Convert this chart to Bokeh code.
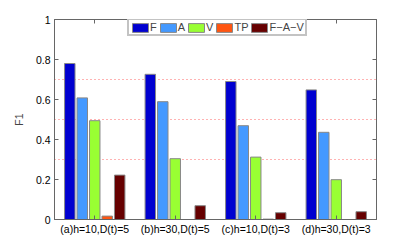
from bokeh.plotting import figure
from bokeh.models import FixedTicker, LinearAxis, Legend, LegendItem, Range1d
from bokeh.embed import file_html
from bokeh.resources import INLINE

groups = ["(a)h=10,D(t)=5", "(b)h=30,D(t)=5", "(c)h=10,D(t)=3", "(d)h=30,D(t)=3"]
series_names = ["F", "A", "V", "TP", "F\u2212A\u2212V"]
F = [0.780, 0.726, 0.690, 0.648]
A = [0.608, 0.589, 0.469, 0.436]
V = [0.494, 0.304, 0.312, 0.199]
TP = [0.017, 0.0, 0.002, 0.0]
FAV = [0.222, 0.069, 0.034, 0.039]
ref_lines = [0.3, 0.5, 0.7]
y_ticks = [0, 0.2, 0.4, 0.6, 0.8, 1]

series = [F, A, V, TP, FAV]
colors = ["#0000D0", "#4499FF", "#99FF33", "#FF5511", "#660000"]
offsets = [-0.31, -0.155, 0.0, 0.155, 0.31]
bar_w = 0.13
FONT = "Liberation Sans"

p = figure(width=410, height=240, output_backend="svg", toolbar_location=None,
           x_range=Range1d(0.5, 4.5), y_range=Range1d(0, 1),
           min_border_left=54, min_border_right=34, min_border_top=19, min_border_bottom=21)
p.outline_line_color = "#666666"
p.outline_line_width = 1

xs = [i + 1 for i in range(len(groups))]
items = []
for name, vals, c, off in zip(series_names, series, colors, offsets):
    r = p.vbar(x=[x + off for x in xs], top=vals, width=bar_w, fill_color=c,
               line_color="#888888", line_width=1)
    items.append(LegendItem(label=name, renderers=[r]))

# grid
p.xgrid.visible = False
p.ygrid.ticker = FixedTicker(ticks=ref_lines)
p.ygrid.grid_line_color = "#FF6666"
p.ygrid.grid_line_dash = "1 3"
p.ygrid.grid_line_width = 1

# axes
for ax in [p.xaxis[0], p.yaxis[0]]:
    ax.major_tick_in = 4
    ax.major_tick_out = 0
    ax.minor_tick_line_color = None
    ax.axis_line_color = "#666666"
    ax.major_tick_line_color = "#666666"
    ax.major_label_text_font = FONT
    ax.major_label_text_font_size = "10.5px"
    ax.major_label_text_color = "#000000"

p.xaxis[0].ticker = FixedTicker(ticks=xs)
p.xaxis[0].major_label_overrides = {x: g for x, g in zip(xs, groups)}
p.xaxis[0].major_label_standoff = 3
p.yaxis[0].ticker = FixedTicker(ticks=y_ticks)
p.yaxis[0].major_label_overrides = {t: ("0" if t == 0 else ("1" if t == 1 else f"{t:.1f}")) for t in y_ticks}
p.yaxis[0].major_label_standoff = 4
p.yaxis[0].axis_label = "F1"
p.yaxis[0].axis_label_text_font = FONT
p.yaxis[0].axis_label_text_font_size = "10.5px"
p.yaxis[0].axis_label_text_font_style = "normal"
p.yaxis[0].axis_label_standoff = 8

top_ax = LinearAxis(ticker=FixedTicker(ticks=xs), major_label_text_font_size="0px",
                    major_tick_in=4, major_tick_out=0, minor_tick_line_color=None,
                    axis_line_color="#666666", major_tick_line_color="#666666")
top_ax.major_label_text_color = None
right_ax = LinearAxis(ticker=FixedTicker(ticks=y_ticks), major_label_text_font_size="0px",
                      major_tick_in=4, major_tick_out=0, minor_tick_line_color=None,
                      axis_line_color="#666666", major_tick_line_color="#666666")
right_ax.major_label_text_color = None
p.add_layout(top_ax, "above")
p.add_layout(right_ax, "right")

legend = Legend(items=items, orientation="horizontal", location=(73, 183),
                glyph_width=20, glyph_height=11, label_standoff=0, spacing=1,
                padding=1, margin=0, border_line_color="#888888", border_line_width=2,
                label_text_font=FONT, label_text_font_size="11px",
                label_height=11, label_width=1, background_fill_alpha=1)
p.add_layout(legend, "center")

open("out.html", "w").write(file_html(p, INLINE))
